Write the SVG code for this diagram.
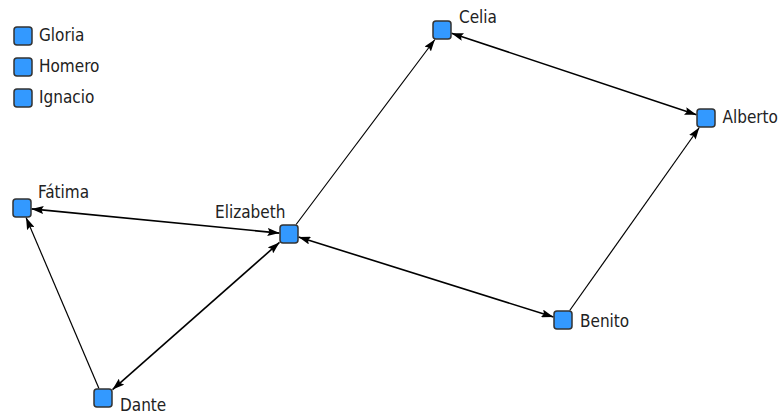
<svg xmlns="http://www.w3.org/2000/svg" width="784" height="415" viewBox="0 0 784 415">
<defs>
<marker id="ah" viewBox="0 0 12 8" refX="12" refY="4" markerWidth="12" markerHeight="8" markerUnits="userSpaceOnUse" orient="auto-start-reverse">
<path d="M0,0 L12,4 L0,8 L2,4 z" fill="#000"/>
</marker>
<style>
.e{stroke:#000;stroke-width:1.2;fill:none}
.b{stroke-width:1.6}
.n{fill:#3399ff;stroke:#333;stroke-width:1.5}
.t{font-family:"DejaVu Sans Condensed","DejaVu Sans",sans-serif;font-stretch:condensed;font-size:17px;fill:#222}
</style>
</defs>
<rect width="784" height="415" fill="#fff"/>
<g id="connectors">
<line class="e" x1="296.1" y1="224.5" x2="434.9" y2="39.5" marker-end="url(#ah)"/>
<line class="e b" x1="451.5" y1="33.2" x2="696.5" y2="114.8" marker-start="url(#ah)" marker-end="url(#ah)"/>
<line class="e" x1="569.7" y1="310.5" x2="699.3" y2="127.5" marker-end="url(#ah)"/>
<line class="e b" x1="298.5" y1="237" x2="553.5" y2="317" marker-start="url(#ah)" marker-end="url(#ah)"/>
<line class="e b" x1="31.5" y1="208.9" x2="279.5" y2="233.1" marker-start="url(#ah)" marker-end="url(#ah)"/>
<line class="e" x1="98.95" y1="388.5" x2="26.05" y2="217.5" marker-end="url(#ah)"/>
<line class="e b" x1="112.5" y1="389.6" x2="279.5" y2="242.4" marker-start="url(#ah)" marker-end="url(#ah)"/>
</g>
<g id="gloria"><rect class="n" x="14" y="27" width="18" height="18" rx="3"/><text class="t" x="39" y="41">Gloria</text></g>
<g id="homero"><rect class="n" x="14" y="58" width="18" height="18" rx="3"/><text class="t" x="39" y="72">Homero</text></g>
<g id="ignacio"><rect class="n" x="14" y="89" width="18" height="18" rx="3"/><text class="t" x="39" y="103">Ignacio</text></g>
<g id="fatima"><rect class="n" x="13" y="199" width="18" height="18" rx="3"/><text class="t" x="38" y="198">Fátima</text></g>
<g id="elizabeth"><rect class="n" x="280" y="225" width="18" height="18" rx="3"/><text class="t" x="215" y="217.5">Elizabeth</text></g>
<g id="celia"><rect class="n" x="433" y="21" width="18" height="18" rx="3"/><text class="t" x="459" y="23">Celia</text></g>
<g id="alberto"><rect class="n" x="697" y="109" width="18" height="18" rx="3"/><text class="t" x="722.5" y="123">Alberto</text></g>
<g id="benito"><rect class="n" x="554" y="311" width="18" height="18" rx="3"/><text class="t" x="580" y="327">Benito</text></g>
<g id="dante"><rect class="n" x="94" y="389" width="18" height="18" rx="3"/><text class="t" x="120" y="411">Dante</text></g>
</svg>
